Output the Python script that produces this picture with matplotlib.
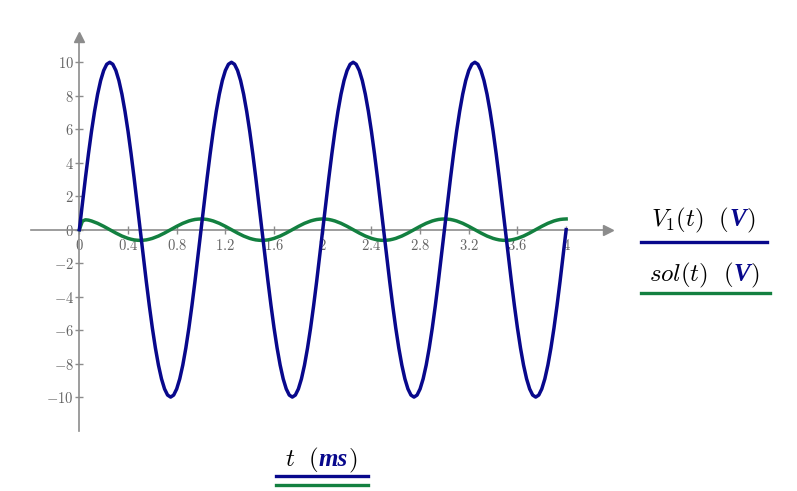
import numpy as np
import matplotlib
matplotlib.use("Agg")
import matplotlib.pyplot as plt
from matplotlib.lines import Line2D

plt.rcParams['mathtext.fontset'] = 'cm'

W, H = 797, 491
BLUE = '#08088c'
GREEN = '#138040'
AXIS = '#8c8c8c'
TICKTXT = '#646464'

# time grid (ms), one sample every 0.025 ms
t_ms = np.linspace(0, 4, 161)

# V1(t) over one period (V)
v1_period = [0.0, 1.56, 3.09, 4.54, 5.88, 7.07, 8.09, 8.91, 9.51, 9.88,
             10.0, 9.88, 9.51, 8.91, 8.09, 7.07, 5.88, 4.54, 3.09, 1.56,
             0.0, -1.56, -3.09, -4.54, -5.88, -7.07, -8.09, -8.91, -9.51, -9.88,
             -10.0, -9.88, -9.51, -8.91, -8.09, -7.07, -5.88, -4.54, -3.09, -1.56]
v1 = v1_period * 4 + [0.0]

# sol(t): start-up part, then the steady period
sol_start = [0.0, 0.51, 0.59, 0.57]
sol_period = [0.64, 0.63, 0.61, 0.57, 0.52, 0.45, 0.38, 0.29, 0.20, 0.10,
              0.0, -0.10, -0.20, -0.29, -0.38, -0.45, -0.52, -0.57, -0.61, -0.63,
              -0.64, -0.63, -0.61, -0.57, -0.52, -0.45, -0.38, -0.29, -0.20, -0.10,
              0.0, 0.10, 0.20, 0.29, 0.38, 0.45, 0.52, 0.57, 0.61, 0.63]
sol = sol_start + sol_period[4:] + sol_period * 3 + [0.64]

x_ticks = [0, 0.4, 0.8, 1.2, 1.6, 2, 2.4, 2.8, 3.2, 3.6, 4]
x_labels = ['0', '0.4', '0.8', '1.2', '1.6', '2', '2.4', '2.8', '3.2', '3.6', '4']
y_ticks = [-10, -8, -6, -4, -2, 0, 2, 4, 6, 8, 10]
y_labels = ['-10', '-8', '-6', '-4', '-2', '0', '2', '4', '6', '8', '10']

fig = plt.figure(figsize=(W / 100, H / 100), dpi=100)
ax = fig.add_axes([0, 0, 1, 1])
ax.patch.set_visible(False)
ax.set_xlim(-0.652, 5.897)
ax.set_ylim(-15.61, 13.72)

for s in ['top', 'right']:
    ax.spines[s].set_visible(False)
ax.spines['left'].set_position(('data', 0))
ax.spines['bottom'].set_position(('data', 0))
ax.spines['left'].set_bounds(-12, 11.5)
ax.spines['bottom'].set_bounds(-0.4, 4.33)
for s in ['left', 'bottom']:
    ax.spines[s].set_color(AXIS)
    ax.spines[s].set_linewidth(1.2)

# arrow heads
ax.plot(0, 11.5, marker='^', ms=6.5, color=AXIS, clip_on=False)
ax.plot(4.34, 0, marker='>', ms=6.5, color=AXIS, clip_on=False)

ax.set_xticks(x_ticks)
ax.set_xticklabels(['$' + s + '$' for s in x_labels])
ax.set_yticks(y_ticks)
ax.set_yticklabels(['$' + s + '$' for s in y_labels])
ax.tick_params(direction='inout', length=6, width=1, color=AXIS,
               labelcolor=TICKTXT, labelsize=10.5)
ax.tick_params(axis='x', pad=3)
ax.tick_params(axis='y', pad=1)

ax.plot(t_ms, sol, color=GREEN, lw=2.5, zorder=3)
ax.plot(t_ms, v1, color=BLUE, lw=2.5, zorder=4)


def place(cx, base, pieces, size=18):
    # lay text pieces side by side, centred on cx (pixels)
    fig.canvas.draw()
    r = fig.canvas.get_renderer()
    items = []
    for s, col, kw in pieces:
        t = fig.text(0, 1 - base / H, s, color=col, fontsize=size,
                     va='baseline', ha='left', **kw)
        items.append(t)
    widths = [t.get_window_extent(r).width for t in items]
    x = cx - sum(widths) / 2
    for t, w in zip(items, widths):
        t.set_x(x / W)
        x += w


bold = dict(family='Liberation Serif', fontweight='bold', fontstyle='italic')

place(703, 226, [(r'$V_1(t)\ \ ($', 'black', {}), ('V', BLUE, bold),
                 (r'$)$', 'black', {})])
place(704, 281, [(r'$sol(t)\ \ ($', 'black', {}), ('V', BLUE, bold),
                 (r'$)$', 'black', {})])
place(321, 466, [(r'$t\ \ ($', 'black', {}), ('ms', BLUE, bold),
                 (r'$)$', 'black', {})])


def underline(x0, x1, y, col):
    fig.add_artist(Line2D([x0 / W, x1 / W], [1 - y / H] * 2, color=col, lw=2.4))


underline(641, 767, 241.5, BLUE)
underline(641, 770, 292.5, GREEN)
underline(276, 368, 476, BLUE)
underline(276, 368, 484.5, GREEN)

fig.savefig('out.png', dpi=100)
